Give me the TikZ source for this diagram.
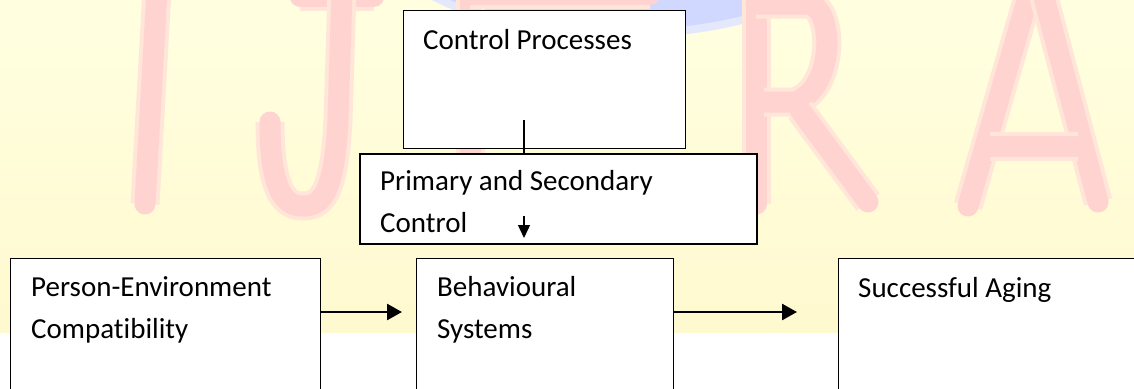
\documentclass[tikz,border=0pt]{standalone}
\usepackage{fontspec}
\setmainfont[Ligatures=NoCommon]{Carlito}
\usetikzlibrary{positioning,calc,arrows.meta}

\definecolor{bandtop}{HTML}{FFFFE0}
\definecolor{bandbot}{HTML}{FFF9CF}
\definecolor{wmpink}{HTML}{FFD3D0}
\definecolor{wmhalo}{HTML}{FFE6D9}
\definecolor{logoblue}{HTML}{D0D8FF}
\definecolor{logohalo}{HTML}{E4E8FC}

\tikzset{
  box/.style={draw, fill=white, line width=1.4pt, inner sep=0pt, anchor=north west},
  boxtext/.style={anchor=base west, inner sep=0pt, align=left, font=\fontsize{29}{42}\selectfont},
  flow/.style={-{Triangle[length=15pt,width=16pt]}, line width=2.6pt},
  wmstroke/.style={draw=wmpink, line width=21pt, line cap=round, line join=round,
    preaction={draw=wmhalo, line width=29pt}},
}

\begin{document}
\begin{tikzpicture}[x=1pt,y=-1pt]
  \useasboundingbox (0,0) rectangle (1134,388);
  \clip (0,0) rectangle (1134,388);

  % page background
  \fill[white] (0,0) rectangle (1134,388);
  \shade[top color=bandtop, bottom color=bandbot] (0,0) rectangle (1134,332);
  \fill[logohalo] (620,-62) ellipse [x radius=240pt, y radius=100pt];
  \fill[logoblue] (620,-62) ellipse [x radius=230pt, y radius=92pt];

  % watermark letters
  \draw[wmstroke] (157,-10) -- (145,204);
  \draw[wmstroke] (300,-4) -- (374,-4);
  \draw[wmstroke] (342,-10) -- (338,120) .. controls (334,198) and (320,206) .. (302,206)
    .. controls (280,206) and (270,180) .. (270,122);
  \draw[wmstroke] (470,-10) -- (470,205);
  \draw[wmstroke] (470,-6) -- (650,-6);
  \draw[wmstroke] (756,-10) -- (756,204);
  \draw[wmstroke] (756,4) -- (808,4) .. controls (834,6) and (836,88) .. (795,102) -- (764,102);
  \draw[wmstroke] (800,110) -- (868,202);
  \draw[wmstroke] (1030,-10) -- (968,206);
  \draw[wmstroke] (1042,-10) -- (1098,202);
  \draw[wmstroke] (990,146) -- (1078,146);

  % boxes
  \node[box, minimum width=282, minimum height=138] (cp) at (403,10) {};
  \node[box, minimum width=397, minimum height=90, line width=1.9pt] (psc) at (359,153) {};
  \node[box, minimum width=310, minimum height=170] (pec) at (10,258) {};
  \node[box, minimum width=257, minimum height=170] (bs) at (416,258) {};
  \node[box, minimum width=320, minimum height=170] (sa) at (838,258) {};

  % labels (base is the last line)
  \node[boxtext] (cptext) at ($(cp.north west)+(20,39)$) {Control Processes};
  \node[boxtext] (psctext) at ($(psc.north west)+(21,79)$) {Primary and Secondary\\Control};
  \node[boxtext] (pectext) at ($(pec.north west)+(21,80)$) {Person-Environment\\Compatibility};
  \node[boxtext] (bstext) at ($(bs.north west)+(21,80)$) {Behavioural\\Systems};
  \node[boxtext] (satext) at ($(sa.north west)+(20,39)$) {Successful Aging};

  % connectors
  \coordinate (cpfoot) at (524,120);
  \coordinate (pscin) at (524,216);
  \coordinate (pscout) at (524,238);
  \draw[line width=1.5pt] (cpfoot) -- (cpfoot |- psc.north);
  \draw[-{Triangle[length=13pt,width=12pt]}, line width=1.3pt] (pscin) -- (pscout);
  \draw[flow] ($(pec.north east)+(0,54)$) -- ($(bs.north west)+(-14,54)$);
  \draw[flow] ($(bs.north east)+(0,54)$) -- ($(sa.north west)+(-41,54)$);
\end{tikzpicture}
\end{document}
